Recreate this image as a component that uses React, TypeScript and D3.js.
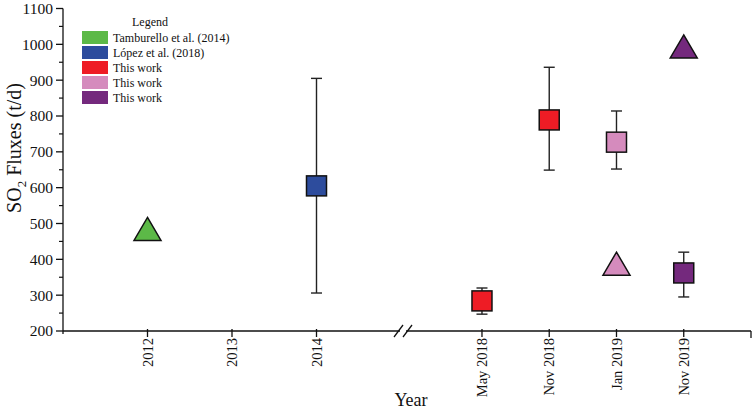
import React from "react";
import { scaleLinear, range } from "d3";

// left segment: years
const yearTicks = [2012, 2013, 2014];
// right segment: campaigns
const campaigns = ["May 2018", "Nov 2018", "Jan 2019", "Nov 2019"];

const yTicks = [200, 300, 400, 500, 600, 700, 800, 900, 1000, 1100];

const legendLabels = [
  "Tamburello et al. (2014)",
  "López et al. (2018)",
  "This work",
  "This work",
  "This work",
];
const legendColors = ["#5cb947", "#2d4c9d", "#ee1c25", "#d58bbd", "#74297d"];

// squares with error bars: [segment, position, value, low, high, colorIndex]
const squares: [string, number | string, number, number, number, number][] = [
  ["year", 2014, 605, 306, 905, 1],
  ["camp", "May 2018", 284, 247, 320, 2],
  ["camp", "Nov 2018", 789, 649, 936, 2],
  ["camp", "Jan 2019", 727, 652, 814, 3],
  ["camp", "Nov 2019", 362, 295, 420, 4],
];

// triangles: [segment, position, value, colorIndex]
const triangles: [string, number | string, number, number][] = [
  ["year", 2012, 485, 0],
  ["camp", "Jan 2019", 388, 3],
  ["camp", "Nov 2019", 994, 4],
];

const W = 754;
const H = 412;
const font = "'Liberation Serif', 'Times New Roman', serif";

const App: React.FC = () => {
  const y = scaleLinear().domain([200, 1100]).range([331, 8.5]);
  const xYear = scaleLinear().domain([2011, 2015]).range([63, 401]);
  const xCamp = scaleLinear().domain([-1.1, 4]).range([408, 751]);

  const xPos = (seg: string, p: number | string) =>
    seg === "year" ? xYear(p as number) : xCamp(campaigns.indexOf(p as string));

  const axisY = y(200);
  const sq = 20;
  const tw = 27;
  const th = 23;
  const cap = 5.5;

  const minorY = range(250, 1100, 100);

  return (
    <div style={{ position: "absolute", left: 0, top: 0 }}>
      <svg width={W} height={H} style={{ display: "block", fontFamily: font }}>
        <rect width={W} height={H} fill="white" />

        {/* y axis */}
        <line x1={63} x2={63} y1={y(1100)} y2={axisY + 3} stroke="#111" strokeWidth={1.3} />
        {yTicks.map((t) => (
          <g key={t}>
            <line x1={56} x2={63} y1={y(t)} y2={y(t)} stroke="#111" strokeWidth={1.3} />
            <text x={53} y={y(t)} dy="0.35em" textAnchor="end" fontSize={15.5} fill="#111">
              {t}
            </text>
          </g>
        ))}
        {minorY.map((t) => (
          <line key={t} x1={59} x2={63} y1={y(t)} y2={y(t)} stroke="#111" strokeWidth={1.2} />
        ))}
        <text
          transform={`translate(21,${148}) rotate(-90)`}
          textAnchor="middle"
          fontSize={20}
          fill="#111"
        >
          SO
          <tspan fontSize={13} dy={5}>2</tspan>
          <tspan dy={-5}> Fluxes (t/d)</tspan>
        </text>

        {/* x axis with break */}
        <line x1={63} x2={400} y1={axisY} y2={axisY} stroke="#111" strokeWidth={1.3} />
        <line x1={406} x2={751} y1={axisY} y2={axisY} stroke="#111" strokeWidth={1.3} />
        <line x1={394} x2={403} y1={axisY + 6} y2={axisY - 6} stroke="#111" strokeWidth={1.3} />
        <line x1={403} x2={412} y1={axisY + 6} y2={axisY - 6} stroke="#111" strokeWidth={1.3} />
        <line x1={751} x2={751} y1={axisY} y2={axisY + 7} stroke="#111" strokeWidth={1.3} />
        {yearTicks.map((t) => (
          <g key={t}>
            <line x1={xYear(t)} x2={xYear(t)} y1={axisY - 2} y2={axisY + 6} stroke="#111" strokeWidth={1.3} />
            <text
              transform={`translate(${xYear(t)},${axisY + 7}) rotate(-90)`}
              textAnchor="end"
              dy="0.35em"
              fontSize={14.5}
              fill="#111"
            >
              {t}
            </text>
          </g>
        ))}
        {campaigns.map((c, i) => (
          <g key={c}>
            <line x1={xCamp(i)} x2={xCamp(i)} y1={axisY - 2} y2={axisY + 6} stroke="#111" strokeWidth={1.3} />
            <text
              transform={`translate(${xCamp(i)},${axisY + 7}) rotate(-90)`}
              textAnchor="end"
              dy="0.35em"
              fontSize={14.5}
              fill="#111"
            >
              {c}
            </text>
          </g>
        ))}
        <text x={411} y={406} textAnchor="middle" fontSize={18} fill="#111">
          Year
        </text>

        {/* error bars + squares */}
        {squares.map(([seg, p, v, lo, hi, ci], i) => {
          const cx = xPos(seg, p);
          return (
            <g key={i}>
              <line x1={cx} x2={cx} y1={y(lo)} y2={y(hi)} stroke="#222" strokeWidth={1.4} />
              <line x1={cx - cap} x2={cx + cap} y1={y(lo)} y2={y(lo)} stroke="#222" strokeWidth={1.4} />
              <line x1={cx - cap} x2={cx + cap} y1={y(hi)} y2={y(hi)} stroke="#222" strokeWidth={1.4} />
              <rect
                x={cx - sq / 2}
                y={y(v) - sq / 2}
                width={sq}
                height={sq}
                fill={legendColors[ci]}
                stroke="#111"
                strokeWidth={1.5}
              />
            </g>
          );
        })}

        {/* triangles */}
        {triangles.map(([seg, p, v, ci], i) => {
          const cx = xPos(seg, p);
          const cy = y(v);
          return (
            <path
              key={i}
              d={`M${cx},${cy - th / 2}L${cx + tw / 2},${cy + th / 2}L${cx - tw / 2},${cy + th / 2}Z`}
              fill={legendColors[ci]}
              stroke="#111"
              strokeWidth={1.5}
              strokeLinejoin="miter"
            />
          );
        })}

        {/* legend */}
        <text x={150} y={26} textAnchor="middle" fontSize={12} fill="#111">
          Legend
        </text>
        {legendLabels.map((l, i) => (
          <g key={i} transform={`translate(82,${31 + i * 15})`}>
            <rect width={26} height={13} fill={legendColors[i]} />
            <text x={31} y={10.5} fontSize={12} fill="#111">
              {l}
            </text>
          </g>
        ))}
      </svg>
    </div>
  );
};

export default App;
